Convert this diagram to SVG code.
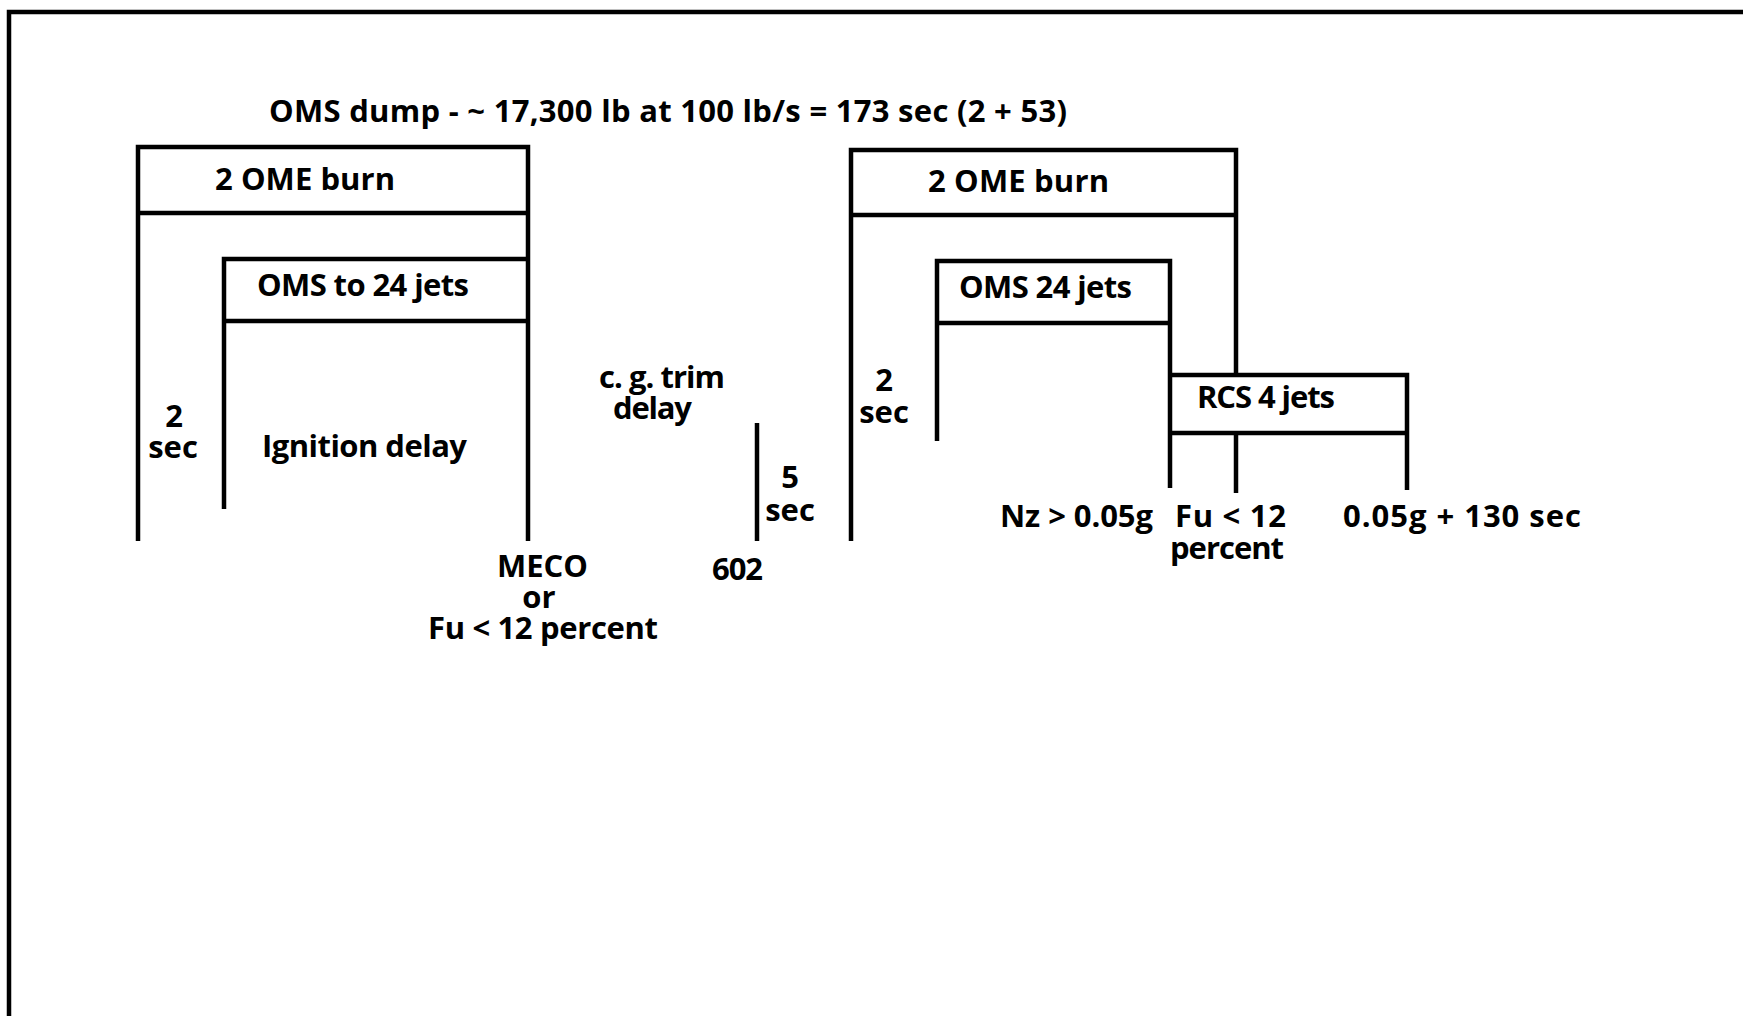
<svg xmlns="http://www.w3.org/2000/svg" width="1743" height="1016" viewBox="0 0 1743 1016">
<style>
  .ln { fill: none; stroke: #000; stroke-width: 4.5; stroke-linejoin: miter; stroke-linecap: butt; }
  .t { font-family: "Open Sans", "Liberation Sans", sans-serif; font-weight: 700; font-size: 31px; fill: #000; }
  .c { text-anchor: middle; }
</style>
<rect width="1743" height="1016" fill="#fff"/>
<g id="frame">
  <path class="ln" d="M9,1016 V12 H1743"/>
</g>
<g id="title">
  <text class="t" x="269" y="122" textLength="798">OMS dump - ~ 17,300 lb at 100 lb/s = 173 sec (2 + 53)</text>
</g>
<g id="connectors">
  <path class="ln" d="M138,213 H528"/>
  <path class="ln" d="M224,321 H528"/>
  <path class="ln" d="M757,423 V541"/>
  <path class="ln" d="M851,215 H1236"/>
  <path class="ln" d="M937,323 H1170"/>
  <path class="ln" d="M1170,433 H1407"/>
  <path class="ln" d="M1236,433 V493"/>
</g>
<g id="left-ome-burn">
  <path class="ln" d="M138,541 V147 H528 V541"/>
  <text class="t" x="215" y="190" textLength="180">2 OME burn</text>
</g>
<g id="left-oms-jets">
  <path class="ln" d="M224,509 V259 H528"/>
  <text class="t" x="257" y="296" textLength="212">OMS to 24 jets</text>
</g>
<g id="ignition-delay">
  <text class="t" x="262" y="457" textLength="205">Ignition delay</text>
</g>
<g id="left-2sec">
  <text class="t c" x="174" y="427">2</text>
  <text class="t c" x="173" y="458">sec</text>
</g>
<g id="meco">
  <text class="t" x="497" y="577" textLength="91">MECO</text>
  <text class="t c" x="539" y="608">or</text>
  <text class="t" x="428" y="639" textLength="230">Fu &lt; 12 percent</text>
</g>
<g id="cg-trim">
  <text class="t" x="599" y="388" textLength="126">c. g. trim</text>
  <text class="t" x="613" y="419" textLength="79">delay</text>
</g>
<g id="five-sec">
  <text class="t c" x="790" y="488">5</text>
  <text class="t c" x="790" y="521">sec</text>
  <text class="t" x="712" y="580" textLength="51">602</text>
</g>
<g id="right-ome-burn">
  <path class="ln" d="M851,541 V150 H1236 V375"/>
  <text class="t" x="928" y="192" textLength="181">2 OME burn</text>
</g>
<g id="right-oms-jets">
  <path class="ln" d="M937,441 V261 H1170 V488"/>
  <text class="t" x="959" y="298" textLength="173">OMS 24 jets</text>
</g>
<g id="rcs-jets">
  <path class="ln" d="M1170,375 H1407 V490"/>
  <text class="t" x="1197" y="408" textLength="138">RCS 4 jets</text>
</g>
<g id="right-2sec">
  <text class="t c" x="884" y="391">2</text>
  <text class="t c" x="884" y="423">sec</text>
</g>
<g id="nz">
  <text class="t" x="1000" y="527" textLength="153">Nz &gt; 0.05g</text>
</g>
<g id="fu12">
  <text class="t" x="1175" y="527" textLength="111">Fu &lt; 12</text>
  <text class="t" x="1170" y="559" textLength="114">percent</text>
</g>
<g id="plus130">
  <text class="t" x="1343" y="527" textLength="238">0.05g + 130 sec</text>
</g>
</svg>
